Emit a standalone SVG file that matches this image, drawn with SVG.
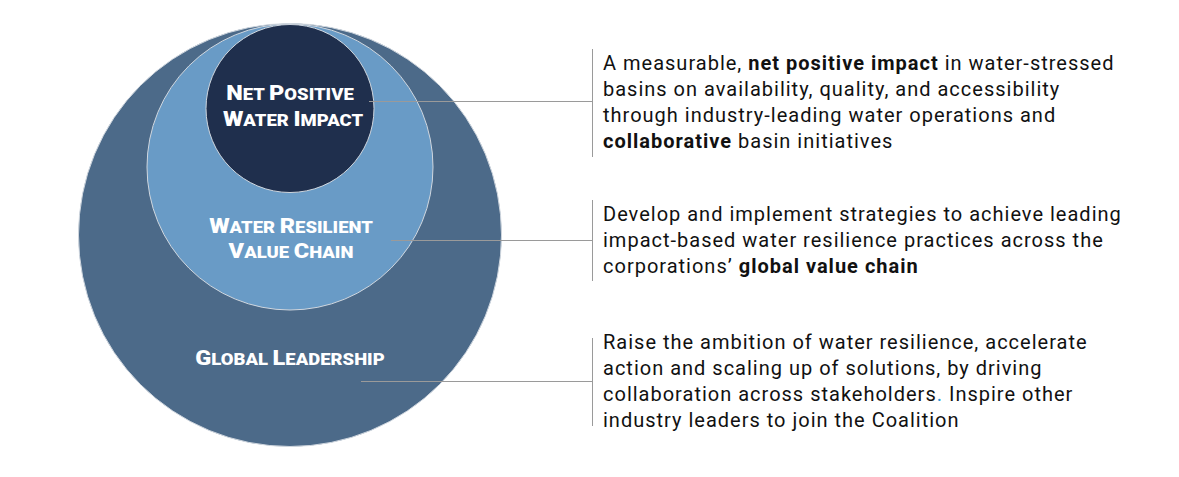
<svg xmlns="http://www.w3.org/2000/svg" width="1179" height="477" viewBox="0 0 1179 477">
<style>
.ring{stroke:#d0d7df;stroke-width:1}
.lbl{font-family:Roboto,"Liberation Sans",sans-serif;font-weight:900;fill:#ffffff;text-anchor:middle;font-size:16.5px}
.cap{font-size:21px}
.desc{font-family:Roboto,"Liberation Sans",sans-serif;font-size:20px;fill:#111111;letter-spacing:1px}
.b{font-weight:700}
.con{stroke:#9a9a9a;stroke-width:1;fill:none}
</style>
<rect width="1179" height="477" fill="#ffffff"/>
<g id="global-leadership">
<circle class="ring" cx="290" cy="235" r="211.5" fill="#4c6a89"/>
<text class="lbl" transform="translate(290 365) scale(1.12 1)"><tspan class="cap">G</tspan>LOBAL <tspan class="cap">L</tspan>EADERSHIP</text>
</g>
<g id="water-resilient-value-chain">
<circle class="ring" cx="290" cy="167" r="143" fill="#699bc6"/>
<text class="lbl" transform="translate(291 233) scale(1.12 1)"><tspan class="cap">W</tspan>ATER <tspan class="cap">R</tspan>ESILIENT</text>
<text class="lbl" transform="translate(291 258) scale(1.12 1)"><tspan class="cap">V</tspan>ALUE <tspan class="cap">C</tspan>HAIN</text>
</g>
<g id="net-positive-water-impact">
<circle class="ring" cx="290" cy="108.5" r="84" fill="#1f2f4d"/>
<text class="lbl" transform="translate(290 100) scale(1.12 1)"><tspan class="cap">N</tspan>ET <tspan class="cap">P</tspan>OSITIVE</text>
<text class="lbl" transform="translate(293 126) scale(1.12 1)"><tspan class="cap">W</tspan>ATER <tspan class="cap">I</tspan>MPACT</text>
</g>
<g id="connectors">
<path class="con" d="M369 101.5H592.5M592.5 49V157"/>
<path class="con" d="M391 240.5H592.5M592.5 200V281"/>
<path class="con" d="M361 381.5H592.5M592.5 338V426"/>
</g>
<g id="desc-net-positive">
<text class="desc" x="603" y="70">A measurable, <tspan class="b">net positive impact</tspan> in water-stressed</text>
<text class="desc" x="603" y="96">basins on availability, quality, and accessibility</text>
<text class="desc" x="603" y="122">through industry-leading water operations and</text>
<text class="desc" x="603" y="148"><tspan class="b">collaborative</tspan> basin initiatives</text>
</g>
<g id="desc-value-chain">
<text class="desc" x="603" y="221">Develop and implement strategies to achieve leading</text>
<text class="desc" x="603" y="247">impact-based water resilience practices across the</text>
<text class="desc" x="603" y="273">corporations’ <tspan class="b">global value chain</tspan></text>
</g>
<g id="desc-leadership">
<text class="desc" x="603" y="349">Raise the ambition of water resilience, accelerate</text>
<text class="desc" x="603" y="375">action and scaling up of solutions, by driving</text>
<text class="desc" x="603" y="401">collaboration across stakeholders<tspan fill="#2f9bd8">.</tspan> Inspire other</text>
<text class="desc" x="603" y="427">industry leaders to join the Coalition</text>
</g>
</svg>
